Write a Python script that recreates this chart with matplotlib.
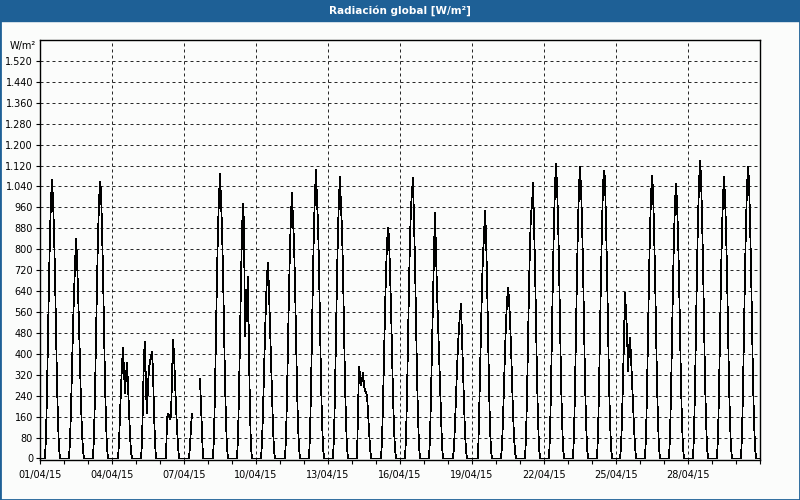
import numpy as np
import matplotlib.pyplot as plt
from matplotlib.ticker import FuncFormatter, MultipleLocator
from matplotlib.patches import Rectangle

# hourly global radiation (W/m2) from 05:00 to 20:00 for each day of April 2015
first_hour = 5
nan = np.nan
daylight = [
    [0, 85, 255, 470, 680, 860, 990, 1064, 990, 870, 700, 490, 290, 140, 40, 0],
    [0, 65, 190, 345, 500, 630, 740, 839, 766, 640, 515, 360, 210, 100, 30, 0],
    [0, 85, 250, 460, 670, 850, 980, 1056, 1028, 880, 710, 490, 290, 140, 40, 0],
    [0, 0, 60, 170, 270, 357, 421, 330, 249, 320, 364, 280, 180, 90, 25, 0],
    [0, 60, 220, 396, 447, 260, 172, 280, 345, 370, 390, 409, 332, 180, 60, 0],
    [0, 0, 150, 172, 165, 150, 160, 300, 453, 400, 300, 200, 120, 50, 0, 0],
    [0, 50, 120, 172, nan, nan, nan, nan, nan, nan, nan, 304, 200, 90, 0, 0],
    [0, 85, 260, 480, 700, 880, 1000, 1088, 983, 880, 715, 500, 295, 140, 40, 0],
    [0, 80, 250, 470, 680, 870, 973, 894, 467, 645, 524, 696, 400, 180, 40, 0],
    [0, 60, 180, 330, 470, 600, 700, 747, 639, 511, 380, 243, 120, 30, 0, 0],
    [0, 80, 240, 440, 640, 810, 930, 1015, 909, 830, 670, 470, 275, 130, 40, 0],
    [0, 90, 265, 490, 705, 895, 1010, 1105, 983, 905, 730, 510, 300, 145, 45, 0],
    [0, 85, 255, 470, 690, 870, 1000, 1075, 958, 880, 710, 495, 290, 140, 40, 0],
    [0, 170, 351, 320, 281, 300, 326, 280, 260, 250, 243, 180, 110, 45, 0, 0],
    [0, 70, 210, 390, 560, 710, 820, 881, 846, 720, 580, 405, 240, 115, 35, 0],
    [0, 80, 240, 450, 660, 840, 960, 1022, 1073, 920, 750, 540, 320, 160, 50, 0],
    [0, 80, 240, 430, 620, 790, 939, 790, 640, 520, 400, 270, 150, 50, 0, 0],
    [0, 45, 130, 240, 340, 430, 500, 549, 590, 470, 340, 210, 100, 30, 0, 0],
    [0, 0, 150, 320, 500, 660, 780, 849, 945, 860, 690, 480, 280, 120, 30, 0],
    [0, 50, 150, 285, 410, 520, 600, 654, 613, 530, 430, 300, 175, 85, 25, 0],
    [0, 80, 240, 450, 650, 820, 939, 964, 1054, 900, 740, 520, 310, 150, 45, 0],
    [0, 90, 270, 500, 720, 910, 1041, 1126, 1041, 925, 745, 520, 305, 150, 45, 0],
    [0, 90, 265, 490, 710, 900, 1034, 1114, 1034, 915, 735, 515, 300, 145, 45, 0],
    [0, 90, 265, 485, 700, 890, 1045, 1098, 1073, 900, 725, 505, 295, 145, 45, 0],
    [40, 150, 300, 460, 632, 560, 487, 332, 421, 460, 390, 300, 210, 120, 50, 0],
    [0, 85, 255, 470, 690, 870, 1000, 1079, 1028, 880, 710, 495, 290, 140, 40, 0],
    [0, 85, 250, 460, 670, 850, 975, 1050, 980, 860, 695, 485, 285, 135, 40, 0],
    [0, 90, 270, 500, 725, 915, 1050, 1137, 1080, 930, 750, 525, 305, 150, 45, 0],
    [0, 85, 255, 470, 690, 870, 1000, 1075, 1000, 880, 710, 495, 290, 140, 40, 0],
    [0, 90, 265, 490, 710, 900, 1040, 1114, 1061, 915, 735, 515, 300, 145, 45, 0],
]
date_labels = ['01/04/15', '04/04/15', '07/04/15', '10/04/15', '13/04/15',
               '16/04/15', '19/04/15', '22/04/15', '25/04/15', '28/04/15']
y_ticks = list(range(0, 1521, 80))

series = []
for day in daylight:
    hours = [0.0] * 24
    for i, v in enumerate(day):
        hours[first_hour + i] = v
    series.extend(hours)
series.append(0.0)
x = np.arange(len(series)) / 24.

blue = '#1e6096'
fig = plt.figure(figsize=(8, 5), dpi=100, facecolor='#fbfcfb')
ax = fig.add_axes([0.05, 0.08, 0.90, 0.84])
ax.set_facecolor('#fbfcfb')

ax.plot(x, series, color='black', lw=0.55, antialiased=False, zorder=3)

ax.set_xlim(0, 30)
ax.set_ylim(-6, 1600)
ax.set_xticks(range(0, 30, 3))
ax.set_xticklabels(date_labels)
ax.xaxis.set_minor_locator(MultipleLocator(1))
ax.set_yticks(y_ticks)
ax.yaxis.set_major_formatter(FuncFormatter(lambda v, p: f'{int(v):,}'.replace(',', '.')))

dash = (0, (3.6, 3.6))
ax.grid(axis='x', which='major', color='black', lw=0.6, ls=dash)
ax.grid(axis='y', which='major', color='black', lw=0.6, ls=dash)
ax.get_ygridlines()[0].set_visible(False)
ax.tick_params(axis='both', which='both', direction='out', length=3, width=0.8,
               labelsize=7, colors='black')
ax.tick_params(axis='x', pad=4)
ax.tick_params(axis='y', pad=2)
for s in ax.spines.values():
    s.set_linewidth(1)
    s.set_color('black')

fig.patches.append(Rectangle((0, 1 - 21 / 500.), 1, 21 / 500., transform=fig.transFigure,
                             color=blue, zorder=0))
fig.patches.append(Rectangle((0, 0), 1, 1, transform=fig.transFigure, fill=False,
                             edgecolor=blue, lw=2, zorder=5))
fig.text(0.5, 1 - 10.5 / 500., 'Radiación global [W/m²]', color='white',
         fontweight='bold', ha='center', va='center', fontsize=7.5)
fig.text(36 / 800., 1 - 46 / 500., 'W/m²', ha='right', va='center', fontsize=7)

fig.savefig('out.png', dpi=100, facecolor=fig.get_facecolor())
